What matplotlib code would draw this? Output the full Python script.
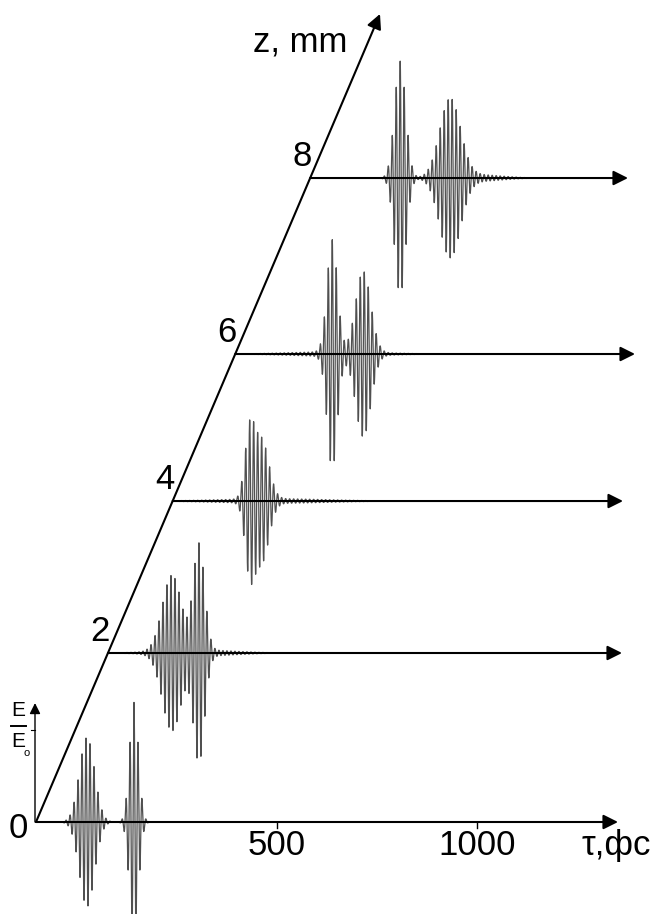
import numpy as np
import matplotlib
matplotlib.use('Agg')
import matplotlib.pyplot as plt

plt.rcParams['font.family'] = ['Liberation Sans', 'DejaVu Sans']

# propagation distances (mm) of the rows
z_values = [0, 2, 4, 6, 8]
z_labels = ['0', '2', '4', '6', '8']

# pulse parameters, tau in fs on each row's own axis
# "narrow" pulse (tall, short) and "broad" pulse
narrow_center = [142.5, 125.0, 90.0, 140.0, 122.5]
narrow_sigma = [11, 14, 12, 13, 14]
narrow_amp = [1.30, 1.15, 0.70, 1.22, 1.27]

broad_center = [25.0, 57.5, 120.0, 217.5, 247.5]
broad_sigma = [19, 24, 18, 19, 26]
broad_amp = [0.92, 0.82, 0.64, 0.88, 0.85]

# weak ripple around the pulses
ripple_center = [100.0, 117.5, 150.0, 150.0, 317.5]
ripple_sigma = [80, 90, 130, 110, 60]
ripple_amp = [0.0, 0.035, 0.025, 0.025, 0.035]

carrier_period = 10.0  # fs
tau_ticks = [500, 1000]
tau_label = 'τ,фс'
z_axis_label = 'z, mm'

# layout (E/E0 units up, fs to the right)
row_offset = [0.0, 1.837, 3.489, 5.087, 7.0]
row_end = [1352.5, 1362.5, 1365.0, 1395.0, 1377.5]
tau_start = -102.5
skew = 97.92  # fs of shift per unit of height along the z axis

fig = plt.figure(figsize=(6.57, 9.14), dpi=100)
ax = fig.add_axes([0, 0, 1, 1])
ax.set_xlim(-192.5, 1450)
ax.set_ylim(-1.0, 8.935)
ax.axis('off')

arrow = dict(arrowstyle='-|>', lw=1.5, color='k', mutation_scale=22,
             shrinkA=0, shrinkB=0)

for i, z in enumerate(z_values):
    off = row_offset[i]
    shift = off * skew
    t = np.arange(tau_start, row_end[i] - shift - 20, 0.2)
    env = (narrow_amp[i] * np.exp(-(t - narrow_center[i])**2 / (2 * narrow_sigma[i]**2))
           + broad_amp[i] * np.exp(-(t - broad_center[i])**2 / (2 * broad_sigma[i]**2))
           + ripple_amp[i] * np.exp(-(t - ripple_center[i])**2 / (2 * ripple_sigma[i]**2)))
    e = env * np.cos(2 * np.pi * (t - narrow_center[i]) / carrier_period)
    ax.plot(t + shift, e + off, color='#505050', lw=0.9, zorder=2)
    # row axis
    ax.annotate('', xy=(row_end[i], off), xytext=(tau_start + shift, off),
                arrowprops=arrow, zorder=3)
    if i > 0:
        ax.text(tau_start + shift - 20, off + 0.23, z_labels[i], fontsize=25,
                ha='center', va='center')

ax.text(-147.5, -0.07, z_labels[0], fontsize=25, ha='center', va='center')

# oblique z axis
ax.annotate('', xy=(757.5, 8.783), xytext=(tau_start, 0), arrowprops=arrow)
ax.text(557.5, 8.478, z_axis_label, fontsize=25, ha='center', va='center')

# field axis
ax.annotate('', xy=(tau_start - 2.5, 1.293), xytext=(tau_start - 2.5, 0),
            arrowprops=dict(arrow, lw=1.0, mutation_scale=16))
ax.plot([-115, tau_start - 2.5], [1.0, 1.0], color='k', lw=0.8)
ax.text(-146, 1.207, 'E', fontsize=15, ha='center', va='center')
ax.plot([-165, -128], [1.045, 1.045], color='k', lw=1.4)
ax.text(-146, 0.87, 'E', fontsize=15, ha='center', va='center')
ax.text(-125, 0.745, 'o', fontsize=8, ha='center', va='center')

# tau ticks
for tk in tau_ticks:
    ax.plot([tk, tk], [0, -0.065], color='k', lw=1.0)
    ax.text(tk, -0.25, str(tk), fontsize=25, ha='center', va='center')
ax.text(1347, -0.25, tau_label, fontsize=25, ha='center', va='center')

fig.savefig('out.png', dpi=100)
